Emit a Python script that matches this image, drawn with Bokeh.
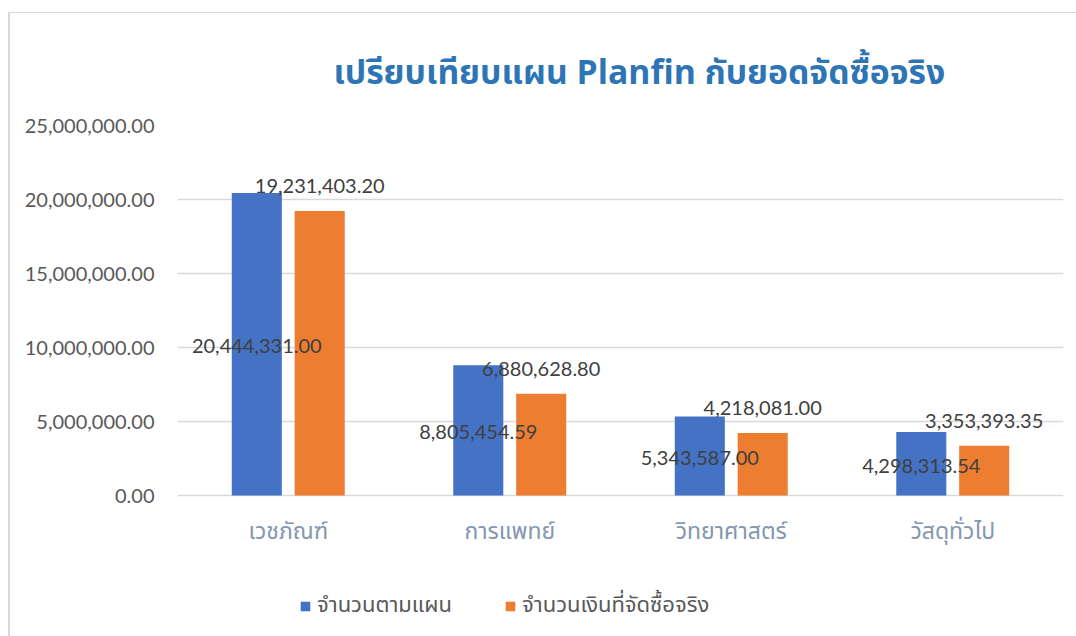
from bokeh.plotting import figure
from bokeh.models import (ColumnDataSource, FactorRange, Range1d, NumeralTickFormatter,
                          FixedTicker, Legend, LegendItem)
from bokeh.transform import dodge
from bokeh.core.properties import value
from bokeh.embed import file_html
from bokeh.resources import INLINE

categories = ["เวชภัณฑ์", "การแพทย์", "วิทยาศาสตร์", "วัสดุทั่วไป"]
plan_values = [20444331.00, 8805454.59, 5343587.00, 4298313.54]
actual_values = [19231403.20, 6880628.80, 4218081.00, 3353393.35]
series_names = ["จำนวนตามแผน", "จำนวนเงินที่จัดซื้อจริง"]
y_ticks = [0, 5000000, 10000000, 15000000, 20000000, 25000000]
title_text = "เปรียบเทียบแผน Planfin กับยอดจัดซื้อจริง"

BLUE = "#4472C4"
ORANGE = "#ED7D31"
NUM_FONT = "Lato"
THAI_FONT = "Noto Sans Thai, Noto Sans, DejaVu Sans, sans-serif"

source = ColumnDataSource(dict(
    cat=categories,
    plan=plan_values,
    actual=actual_values,
    plan_mid=[v / 2 for v in plan_values],
    plan_lbl=[f"{v:,.2f}" for v in plan_values],
    actual_lbl=[f"{v:,.2f}" for v in actual_values],
))

# frame extends below zero so that the legend area lies inside it
y_top = 25000000
y_bottom = -y_top * 136 / 370
p = figure(x_range=FactorRange(*categories), y_range=Range1d(y_bottom, y_top),
           width=1068, height=624, output_backend="svg", toolbar_location=None,
           min_border_left=167, min_border_right=15, min_border_top=112,
           min_border_bottom=6)
p.margin = (12, 0, 0, 8)
p.styles = {"border-top": "1px solid #D9D9D9", "border-left": "2px solid #D9D9D9"}
p.outline_line_color = None
p.background_fill_color = "white"
p.border_fill_color = "white"

off = 0.142
w = 0.226
r1 = p.vbar(x=dodge("cat", -off, range=p.x_range), top="plan", width=w, source=source,
            fill_color=BLUE, line_color=None)
r2 = p.vbar(x=dodge("cat", off, range=p.x_range), top="actual", width=w, source=source,
            fill_color=ORANGE, line_color=None)

p.text(x=dodge("cat", -off, range=p.x_range), y="plan_mid", text="plan_lbl", source=source,
       text_align="center", text_baseline="middle", text_font=value(NUM_FONT),
       text_font_size="20px", text_color="#404040", y_offset=2)
p.text(x=dodge("cat", off, range=p.x_range), y="actual", text="actual_lbl", source=source,
       text_align="center", text_baseline="middle", text_font=value(NUM_FONT),
       text_font_size="20px", text_color="#404040", y_offset=-25)

# axes
p.yaxis.ticker = FixedTicker(ticks=y_ticks)
p.yaxis.formatter = NumeralTickFormatter(format="0,0.00")
p.yaxis.axis_line_color = None
p.yaxis.major_tick_line_color = None
p.yaxis.minor_tick_line_color = None
p.yaxis.major_tick_out = 0
p.yaxis.major_label_text_font = NUM_FONT
p.yaxis.major_label_text_font_size = "20px"
p.yaxis.major_label_text_color = "#595959"
p.yaxis.major_label_standoff = 23

p.xaxis.axis_line_color = None
p.xaxis.major_tick_line_color = None
p.xaxis.minor_tick_line_color = None
p.xaxis.major_tick_out = 0
p.xaxis.major_label_text_font = THAI_FONT
p.xaxis.major_label_text_font_size = "23px"
p.xaxis.major_label_text_color = "#8497B0"
p.xaxis.major_label_standoff = -117

p.xgrid.grid_line_color = None
p.ygrid.ticker = FixedTicker(ticks=y_ticks)
p.ygrid.grid_line_color = "#D9D9D9"
p.ygrid.grid_line_width = 1.5

# title
p.title.text = title_text
p.title.align = "left"
p.title.text_font = THAI_FONT
p.title.text_font_size = "33.7px"
p.title.text_font_style = "bold"
p.title.text_color = "#2E75B6"
p.title.offset = 156
p.title.standoff = 54

legend = Legend(items=[LegendItem(label=series_names[0], renderers=[r1]),
                       LegendItem(label=series_names[1], renderers=[r2])],
                orientation="horizontal", location=(122, 9),
                glyph_width=12, glyph_height=12, label_standoff=6, spacing=52,
                padding=0, margin=0, border_line_color=None,
                background_fill_alpha=0,
                label_text_font=THAI_FONT, label_text_font_size="22px",
                label_text_color="#595959")
p.add_layout(legend)

open("out.html", "w").write(file_html(p, INLINE))
